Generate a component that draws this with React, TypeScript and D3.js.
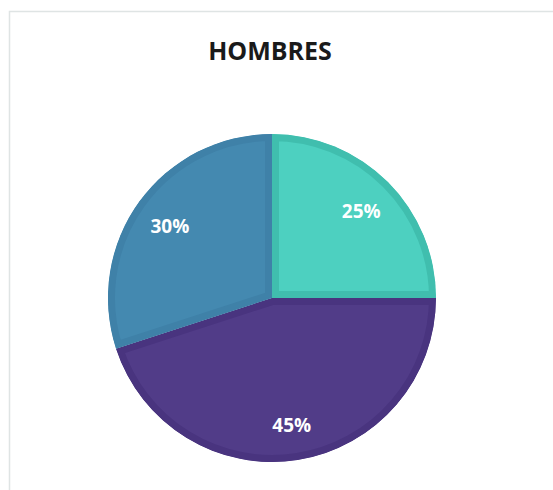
import React, {useEffect, useRef} from 'react';
import * as d3 from 'd3';

const categories = ['A', 'B', 'C'];
const values = [25, 45, 30];
const labels = ['25%', '45%', '30%'];
const fills = ['#4dd0c0', '#513c88', '#4489b0'];
const borders = ['#40beae', '#49347f', '#3f81a8'];
const title = 'HOMBRES';

const W = 553;
const H = 490;

export default function App() {
  const ref = useRef<SVGSVGElement | null>(null);

  useEffect(() => {
    if (ref.current === null) return;
    const svg = d3.select(ref.current);
    svg.selectAll('*').remove();

    // panel frame (top + left edge only visible)
    svg.append('rect').attr('width', W).attr('height', H).attr('fill', '#fff');
    svg
      .append('path')
      .attr('d', `M9.5,${H} L9.5,11.5 L${W},11.5`)
      .attr('fill', 'none')
      .attr('stroke', '#dfe4e4')
      .attr('stroke-width', 1.5);

    svg
      .append('text')
      .attr('x', 270)
      .attr('y', 60)
      .attr('text-anchor', 'middle')
      .attr('font-family', '"Open Sans", sans-serif')
      .attr('font-weight', 'bold')
      .attr('font-size', 25)
      .attr('fill', '#1a1a1a')
      .text(title);

    const cx = 272,
      cy = 298,
      r = 164;

    const pie = d3.pie<number>().sort(null).value(d => d);
    const arcs = pie(values);
    const arc = d3.arc<d3.PieArcDatum<number>>().innerRadius(0).outerRadius(r);
    const labelArc = d3
      .arc<d3.PieArcDatum<number>>()
      .innerRadius(r * 0.77)
      .outerRadius(r * 0.77);

    const g = svg.append('g').attr('transform', `translate(${cx},${cy})`);
    const defs = svg.append('defs');

    arcs.forEach((a, i) => {
      const id = 'clip-' + categories[i];
      defs.append('clipPath').attr('id', id).append('path').attr('d', arc(a) as string);
      g.append('path')
        .attr('d', arc(a) as string)
        .attr('fill', fills[i])
        .attr('stroke', borders[i])
        .attr('stroke-width', 14)
        .attr('clip-path', `url(#${id})`);
    });

    g.selectAll('text.lbl')
      .data(arcs)
      .enter()
      .append('text')
      .attr('class', 'lbl')
      .attr('transform', d => `translate(${labelArc.centroid(d)})`)
      .attr('text-anchor', 'middle')
      .attr('dy', '0.5em')
      .attr('font-family', '"Open Sans", sans-serif')
      .attr('font-weight', 'bold')
      .attr('font-size', 19)
      .attr('fill', '#fff')
      .text((d, i) => labels[i]);
  }, []);

  return (
    <svg
      ref={ref}
      width={W}
      height={H}
      style={{position: 'absolute', left: 0, top: 0, display: 'block'}}
    />
  );
}
